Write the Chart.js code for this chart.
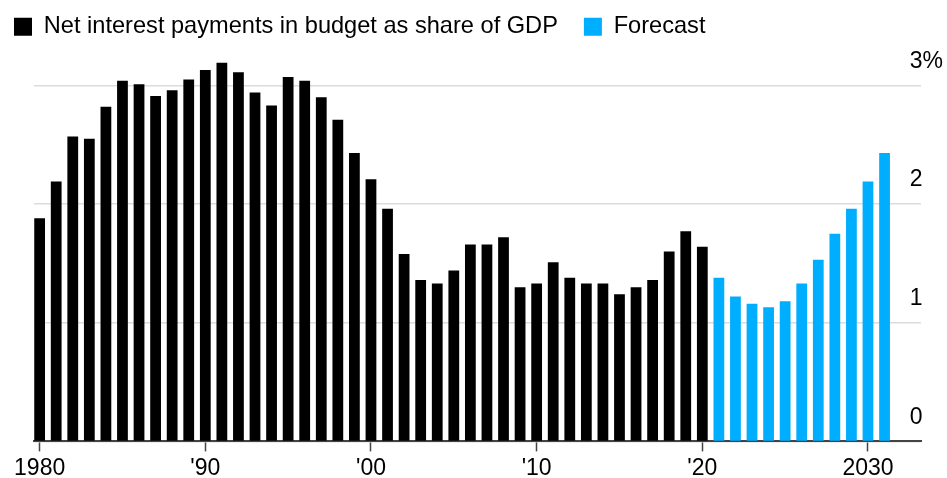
<!DOCTYPE html>
<html>
<head>
<meta charset="utf-8">
<script src="https://cdn.jsdelivr.net/npm/chart.js@4.4.1/dist/chart.umd.min.js"></script>
<style>
  html, body { margin: 0; padding: 0; background: #fff; }
  #wrap { width: 947px; height: 478px; }
</style>
</head>
<body>
<div id="wrap"><canvas id="chart"></canvas></div>
<script>
// years and values
const historyYears = [1980, 1981, 1982, 1983, 1984, 1985, 1986, 1987, 1988, 1989,
  1990, 1991, 1992, 1993, 1994, 1995, 1996, 1997, 1998, 1999,
  2000, 2001, 2002, 2003, 2004, 2005, 2006, 2007, 2008, 2009,
  2010, 2011, 2012, 2013, 2014, 2015, 2016, 2017, 2018, 2019, 2020];
const historyValues = [1.88, 2.19, 2.57, 2.55, 2.82, 3.04, 3.01, 2.91, 2.96, 3.05,
  3.13, 3.19, 3.11, 2.94, 2.83, 3.07, 3.04, 2.90, 2.71, 2.43,
  2.21, 1.96, 1.58, 1.36, 1.33, 1.44, 1.66, 1.66, 1.72, 1.30,
  1.33, 1.51, 1.38, 1.33, 1.33, 1.24, 1.30, 1.36, 1.60, 1.77, 1.64];

const forecastYears = [2021, 2022, 2023, 2024, 2025, 2026, 2027, 2028, 2029, 2030, 2031];
const forecastValues = [1.38, 1.22, 1.16, 1.13, 1.18, 1.33, 1.53, 1.75, 1.96, 2.19, 2.43];

const xTicks = [1980, 1990, 2000, 2010, 2020, 2030];
const xTickLabels = ['1980', "'90", "'00", "'10", "'20", '2030'];
const yTicks = [0, 1, 2, 3];
const yTickLabels = ['0', '1', '2', '3%'];

const seriesNames = ['Net interest payments in budget as share of GDP', 'Forecast'];

function points(years, values) {
  return years.map((y, i) => ({ x: y, y: values[i] }));
}

Chart.defaults.font.family = "'Liberation Sans', Arial, sans-serif";
Chart.defaults.font.size = 23;
Chart.defaults.color = '#000';

const ctx = document.getElementById('chart');
new Chart(ctx, {
  type: 'bar',
  data: {
    datasets: [
      {
        label: seriesNames[0],
        data: points(historyYears, historyValues),
        backgroundColor: '#000000',
        borderWidth: 0,
      },
      {
        label: seriesNames[1],
        data: points(forecastYears, forecastValues),
        backgroundColor: '#00AEFF',
        borderWidth: 0,
      },
    ],
  },
  options: {
    responsive: true,
    maintainAspectRatio: false,
    animation: false,
    grouped: false,
    barPercentage: 0.65,
    categoryPercentage: 1,
    layout: { padding: { left: -12, top: -11, right: 0, bottom: -7 } },
    scales: {
      x: {
        type: 'linear',
        min: 1979.66,
        max: 2033.2,
        offset: false,
        afterBuildTicks: (scale) => {
          scale.ticks = xTicks.map(v => ({ value: v }));
        },
        afterFit: (scale) => {
          scale.paddingLeft = 34;
          scale.paddingRight = 0;
        },
        ticks: {
          padding: 3,
          maxRotation: 0,
          color: '#000',
          callback: (value) => xTickLabels[xTicks.indexOf(value)],
        },
        grid: {
          offset: false,
          drawOnChartArea: false,
          drawTicks: true,
          tickLength: 10,
          tickWidth: 1.5,
          tickColor: '#444',
        },
        border: { display: true, color: '#444', width: 2 },
      },
      y: {
        position: 'right',
        min: 0,
        max: 3.31,
        afterBuildTicks: (scale) => {
          scale.ticks = yTicks.map(v => ({ value: v }));
        },
        afterFit: (scale) => {
          scale.width = 26;
          scale.paddingTop = 0;
          scale.paddingBottom = 0;
        },
        ticks: {
          mirror: true,
          crossAlign: 'far',
          padding: 22,
          labelOffset: -24,
          color: '#000',
          callback: (value) => yTickLabels[yTicks.indexOf(value)],
        },
        grid: { color: '#dcdcdc', lineWidth: 1.5, drawTicks: false },
        border: { display: false },
      },
    },
    plugins: {
      tooltip: { enabled: false },
      legend: {
        position: 'top',
        align: 'start',
        labels: {
          boxWidth: 18,
          boxHeight: 18,
          padding: 26,
          color: '#000',
          font: { size: 23.6 },
        },
      },
    },
  },
});
</script>
</body>
</html>
